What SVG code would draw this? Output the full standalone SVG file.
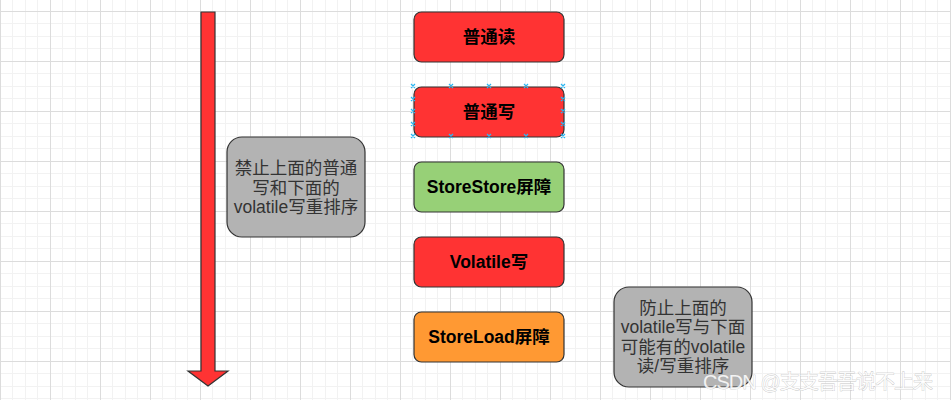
<svg xmlns="http://www.w3.org/2000/svg" width="951" height="400" viewBox="0 0 951 400">
<style>
.box{stroke:#333;stroke-width:1.2}
.lbl{font-family:"Liberation Sans","Noto Sans CJK SC",sans-serif;font-size:17.5px;font-weight:bold;fill:#000;text-anchor:middle}
.note{fill:#b3b3b3;stroke:#333;stroke-width:1.2}
.ntxt{font-family:"Liberation Sans","Noto Sans CJK SC",sans-serif;font-size:17.5px;fill:#333;text-anchor:middle}
.h{stroke:#29b6f2;stroke-width:1.2;fill:none}
</style>
<defs>
<pattern id="grid" patternUnits="userSpaceOnUse" x="0" y="11" width="50" height="50">
<rect width="50" height="50" fill="#fff"/>
<rect x="12" y="0" width="1" height="50" fill="#f2f2f2"/>
<rect x="25" y="0" width="1" height="50" fill="#f2f2f2"/>
<rect x="37" y="0" width="1" height="50" fill="#f2f2f2"/>
<rect x="0" y="12" width="50" height="1" fill="#f2f2f2"/>
<rect x="0" y="25" width="50" height="1" fill="#f2f2f2"/>
<rect x="0" y="37" width="50" height="1" fill="#f2f2f2"/>
<rect x="0" y="0" width="1" height="50" fill="#dcdcdc"/>
<rect x="0" y="0" width="50" height="1" fill="#dcdcdc"/>
</pattern>
</defs>
<rect width="951" height="400" fill="url(#grid)"/>
<g id="connectors">
<polygon id="arrow" points="201,12 215,12 215,371 228,371 208,386 188,371 201,371" fill="#ff3333" stroke="#333" stroke-width="1.2"/>
</g>
<g id="n1"><rect class="box" x="414" y="12" width="150" height="50" rx="7.5" fill="#ff3333"/><text class="lbl" x="489" y="43">普通读</text></g>
<g id="n2"><rect class="box" x="414" y="87" width="150" height="50" rx="7.5" fill="#ff3333"/><text class="lbl" x="489" y="118">普通写</text>
<path class="h" d="M411,84l4,4m0,-4l-4,4M449,84l4,4m0,-4l-4,4M487,84l4,4m0,-4l-4,4M524,84l4,4m0,-4l-4,4M561,84l4,4m0,-4l-4,4M411,134l4,4m0,-4l-4,4M449,134l4,4m0,-4l-4,4M487,134l4,4m0,-4l-4,4M524,134l4,4m0,-4l-4,4M561,134l4,4m0,-4l-4,4M411,97l4,4m0,-4l-4,4M411,109l4,4m0,-4l-4,4M411,122l4,4m0,-4l-4,4M561,97l4,4m0,-4l-4,4M561,109l4,4m0,-4l-4,4M561,122l4,4m0,-4l-4,4"/>
</g>
<g id="n3"><rect class="box" x="414" y="162" width="150" height="50" rx="7.5" fill="#97d077"/><text class="lbl" x="489" y="193">StoreStore屏障</text></g>
<g id="n4"><rect class="box" x="414" y="237" width="150" height="50" rx="7.5" fill="#ff3333"/><text class="lbl" x="489" y="268">Volatile写</text></g>
<g id="n5"><rect class="box" x="414" y="312" width="150" height="50" rx="7.5" fill="#ff9933"/><text class="lbl" x="489" y="343">StoreLoad屏障</text></g>
<g id="note1"><rect class="note" x="227" y="137" width="138" height="100" rx="15"/>
<text class="ntxt" x="296" y="174">禁止上面的普通</text>
<text class="ntxt" x="296" y="193.5">写和下面的</text>
<text class="ntxt" x="296" y="213">volatile写重排序</text></g>
<g id="note2"><rect class="note" x="614" y="287" width="138" height="100" rx="15"/>
<text class="ntxt" x="683" y="313.5">防止上面的</text>
<text class="ntxt" x="683" y="333">volatile写与下面</text>
<text class="ntxt" x="683" y="352.5">可能有的volatile</text>
<text class="ntxt" x="683" y="372">读/写重排序</text></g>
<text x="703" y="389" textLength="230" lengthAdjust="spacing" font-family="'Liberation Sans','Noto Sans CJK SC',sans-serif" font-size="20" fill="#fff" fill-opacity="0.85" stroke="#b4b4b4" stroke-width="0.5" paint-order="stroke">CSDN @支支吾吾说不上来</text>
</svg>
